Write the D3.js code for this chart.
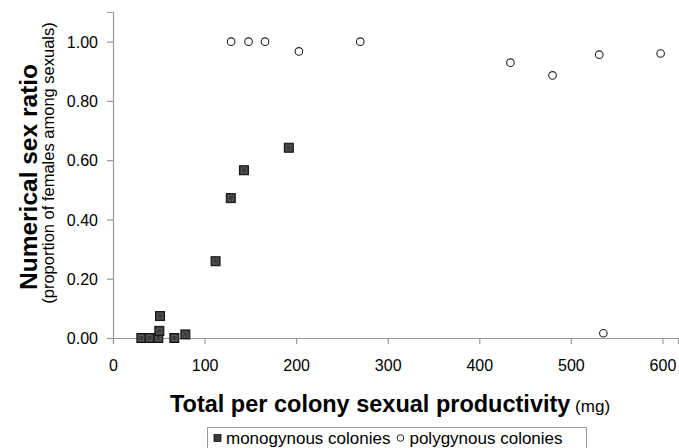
<!DOCTYPE html>
<html>
<head>
<meta charset="utf-8">
<script src="https://cdn.jsdelivr.net/npm/d3@7"></script>
<style>
  body { margin: 0; background: #fff; }
  text { font-family: "Liberation Sans", Arial, sans-serif; }
</style>
</head>
<body>
<svg id="chart" width="679" height="448"></svg>
<script>
// monogynous colonies: productivity (mg) and sex ratio
const monoX = [31, 40, 49.5, 50.6, 51.4, 67, 79, 112, 128.6, 143, 192];
const monoY = [0.0, 0.0, 0.0, 0.024, 0.074, 0.0, 0.012, 0.259, 0.472, 0.566, 0.642];

// polygynous colonies
const polyX = [129, 148, 166, 203, 270, 434, 480, 531, 535.5, 598];
const polyY = [1.0, 1.0, 1.0, 0.967, 1.0, 0.929, 0.886, 0.956, 0.016, 0.96];

const xTicks = [0, 100, 200, 300, 400, 500, 600];
const yTicks = [0, 0.2, 0.4, 0.6, 0.8, 1.0];

const svg = d3.select("#chart");

const margin = { left: 113, top: 12, right: 1, bottom: 110 };
const width = 679 - margin.left - margin.right;
const height = 448 - margin.top - margin.bottom;

const x = d3.scaleLinear().domain([0, 617]).range([0, width]);
const y = d3.scaleLinear().domain([0, 1.1]).range([height, 0]);

const g = svg.append("g")
    .attr("transform", `translate(${margin.left},${margin.top})`);

// axes
const xAxis = g.append("g")
    .attr("transform", `translate(0,${height})`)
    .call(d3.axisBottom(x).tickValues(xTicks).tickSize(6).tickPadding(16).tickFormat(d3.format("d")));

const yAxis = g.append("g")
    .call(d3.axisLeft(y).tickValues(yTicks).tickSize(6).tickPadding(9).tickFormat(d3.format(".2f")));

[xAxis, yAxis].forEach(a => {
    a.select(".domain").attr("stroke", "#999").attr("stroke-width", 1.2);
    a.selectAll(".tick line").attr("stroke", "#999").attr("stroke-width", 1.2);
    a.selectAll(".tick text")
        .attr("fill", "#000")
        .style("font-size", "16px")
        .style("font-family", "'Liberation Sans', Arial, sans-serif");
});
yAxis.selectAll(".tick text").attr("dy", "0.36em");

// polygynous: open circles
g.selectAll(".poly")
    .data(polyX.map((v, i) => [v, polyY[i]]))
    .enter().append("circle")
    .attr("class", "poly")
    .attr("cx", d => x(d[0]))
    .attr("cy", d => y(d[1]))
    .attr("r", 3.8)
    .attr("fill", "#fff")
    .attr("stroke", "#222")
    .attr("stroke-width", 1.1);

// monogynous: dark textured squares
const sq = g.selectAll(".mono")
    .data(monoX.map((v, i) => [v, monoY[i]]))
    .enter().append("g")
    .attr("class", "mono")
    .attr("transform", d => `translate(${x(d[0])},${y(d[1])})`);

sq.append("rect")
    .attr("x", -4.5).attr("y", -4.5)
    .attr("width", 9).attr("height", 9)
    .attr("fill", "#3a3a3a")
    .attr("stroke", "#111")
    .attr("stroke-width", 1);

sq.append("rect")
    .attr("x", -2.5).attr("y", -2.5)
    .attr("width", 5).attr("height", 5)
    .attr("fill", "none")
    .attr("stroke", "#777")
    .attr("stroke-width", 0.8)
    .attr("stroke-dasharray", "1.5 1");

// x axis title
const xt = svg.append("text")
    .attr("x", 390)
    .attr("y", 412)
    .attr("text-anchor", "middle");
xt.append("tspan")
    .style("font-size", "23.5px")
    .style("font-weight", "bold")
    .text("Total per colony sexual productivity");
xt.append("tspan")
    .style("font-size", "17px")
    .text(" (mg)");

// y axis titles
svg.append("text")
    .attr("transform", "translate(37,177) rotate(-90)")
    .attr("text-anchor", "middle")
    .style("font-size", "24.5px")
    .style("font-weight", "bold")
    .text("Numerical sex ratio");

svg.append("text")
    .attr("transform", "translate(54,163) rotate(-90)")
    .attr("text-anchor", "middle")
    .style("font-size", "16.5px")
    .text("(proportion of females among sexuals)");

// legend
const leg = svg.append("g");
leg.append("rect")
    .attr("x", 207.5).attr("y", 427.5)
    .attr("width", 379).attr("height", 30)
    .attr("fill", "#fff")
    .attr("stroke", "#999")
    .attr("stroke-width", 1);

leg.append("rect")
    .attr("x", 214).attr("y", 434.5)
    .attr("width", 7).attr("height", 7)
    .attr("fill", "#3a3a3a")
    .attr("stroke", "#111")
    .attr("stroke-width", 0.8);

const t1 = leg.append("text")
    .attr("x", 226).attr("y", 444)
    .style("font-size", "17px")
    .text("monogynous colonies");

const cx = 226 + t1.node().getComputedTextLength() + 10;
leg.append("circle")
    .attr("cx", cx).attr("cy", 438)
    .attr("r", 3.3)
    .attr("fill", "#fff")
    .attr("stroke", "#222")
    .attr("stroke-width", 1);

leg.append("text")
    .attr("x", cx + 9).attr("y", 444)
    .style("font-size", "17px")
    .text("polygynous colonies");
</script>
</body>
</html>
